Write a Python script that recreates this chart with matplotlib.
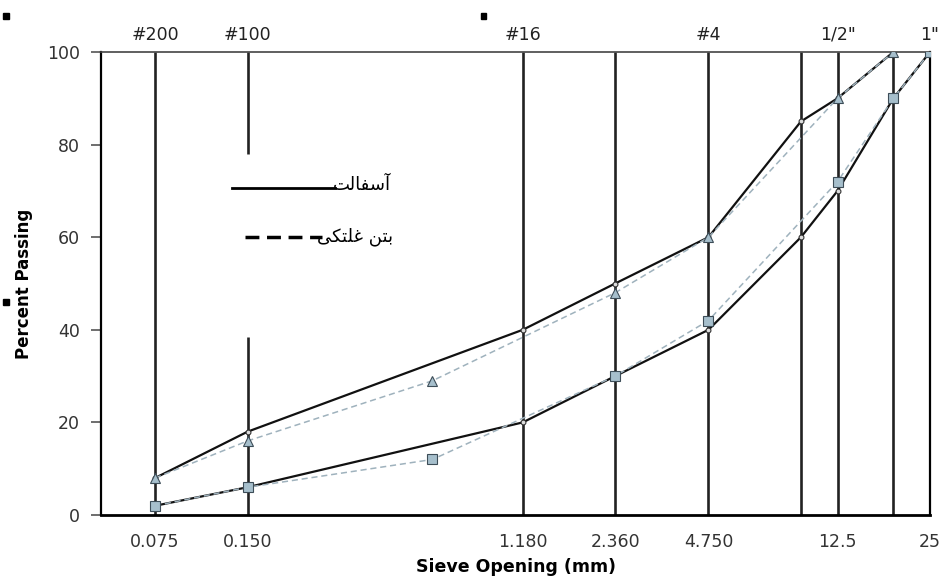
import matplotlib
matplotlib.use("Agg")
import matplotlib.pyplot as plt
from matplotlib.lines import Line2D
from matplotlib.patches import Rectangle

plt.rcParams['font.family'] = ['DejaVu Sans']

# sieve openings (mm)
sieve_lines = [0.075, 0.15, 1.18, 2.36, 4.75, 9.5, 12.5, 19]
bottom_ticks = [0.075, 0.15, 1.18, 2.36, 4.75, 12.5, 25]
bottom_labels = ['0.075', '0.150', '1.180', '2.360', '4.750', '12.5', '25']
top_ticks = [0.075, 0.15, 1.18, 4.75, 12.5, 25]
top_labels = ['#200', '#100', '#16', '#4', '1/2"', '1"']

# asphalt band (solid)
asph_up_x = [0.075, 0.15, 1.18, 2.36, 4.75, 9.5, 12.5, 19]
asph_up_y = [8, 18, 40, 50, 60, 85, 90, 100]
asph_lo_x = [0.075, 0.15, 1.18, 2.36, 4.75, 9.5, 12.5, 19, 25]
asph_lo_y = [2, 6, 20, 30, 40, 60, 70, 90, 100]

# roller compacted concrete band (dashed)
rcc_up_x = [0.075, 0.15, 0.6, 2.36, 4.75, 12.5, 19]
rcc_up_y = [8, 16, 29, 48, 60, 90, 100]
rcc_lo_x = [0.075, 0.15, 0.6, 2.36, 4.75, 12.5, 19, 25]
rcc_lo_y = [2, 6, 12, 30, 42, 72, 90, 100]

# persian labels, written as presentation forms in visual order
legend_asphalt = "\uFE96\uFEDF\uFE8E\uFED4\uFEB3\uFE81"          # آسفالت
legend_rcc = "\uFEF0\uFEDC\uFE98\uFEE0\uFECF \uFEE6\uFE98\uFE91"  # بتن غلتکی

fig = plt.figure(figsize=(9.46, 5.79), dpi=100)
ax = fig.add_axes([0.1068, 0.1105, 0.8763, 0.7997])
ax.set_xscale('log')
ax.set_xlim(0.05, 25)
ax.set_ylim(0, 100)

# sieve verticals, #100 one is broken where the legend sits
for s in sieve_lines:
    if s == 0.15:
        ax.vlines(s, 78, 100, color='#222222', lw=1.9, zorder=1)
        ax.vlines(s, 0, 38.5, color='#222222', lw=1.9, zorder=1)
    else:
        ax.vlines(s, 0, 100, color='#222222', lw=1.9, zorder=1)

face = '#a6bfcc'
edge = '#3d4d58'
dash_col = '#9fb2bd'

for xs, ys in [(asph_up_x, asph_up_y), (asph_lo_x, asph_lo_y)]:
    ax.plot(xs, ys, color='#111111', lw=1.6, marker='o', ms=3.5,
            mfc='#dddddd', mec='#333333', mew=0.8, zorder=3)

ax.plot(rcc_up_x, rcc_up_y, color=dash_col, lw=1.1, ls=(0, (4, 2.5)),
        marker='^', ms=7.5, mfc=face, mec=edge, mew=0.8, zorder=4)
ax.plot(rcc_lo_x, rcc_lo_y, color=dash_col, lw=1.1, ls=(0, (4, 2.5)),
        marker='s', ms=7.5, mfc=face, mec=edge, mew=0.8, zorder=4)

# manual legend
ax.add_line(Line2D([0.158, 0.282], [0.706, 0.706], transform=ax.transAxes,
                   color='black', lw=2.0, zorder=5))
ax.add_line(Line2D([0.174, 0.266], [0.600, 0.600], transform=ax.transAxes,
                   color='black', lw=2.5, ls=(0, (4, 2.2)), zorder=5))
ax.text(0.350, 0.712, legend_asphalt, transform=ax.transAxes, ha='right',
        va='center', fontsize=13, zorder=6)
ax.text(0.352, 0.600, legend_rcc, transform=ax.transAxes, ha='right',
        va='center', fontsize=13, zorder=6)

# axes
ax.set_yticks([0, 20, 40, 60, 80, 100])
ax.tick_params(axis='y', direction='out', length=7, width=1.2, pad=8,
               labelsize=12.5, labelcolor='#333333', color='#555555')
ax.set_xticks(bottom_ticks)
ax.set_xticklabels(bottom_labels)
ax.minorticks_off()
ax.tick_params(axis='x', length=0, pad=13, labelsize=12.5, labelcolor='#333333')

sec = ax.secondary_xaxis('top')
sec.set_xticks(top_ticks)
sec.set_xticklabels(top_labels)
sec.minorticks_off()
sec.tick_params(length=0, pad=6, labelsize=12.5, labelcolor='#222222')
sec.spines['top'].set_visible(False)

ax.spines['left'].set_linewidth(1.6)
ax.spines['bottom'].set_linewidth(2.0)
ax.spines['top'].set_linewidth(1.2)
ax.spines['top'].set_color('#444444')
ax.spines['right'].set_linewidth(1.6)

ax.set_xlabel('Sieve Opening (mm)', fontsize=12.5, fontweight='bold', labelpad=5)
ax.set_ylabel('Percent Passing', fontsize=12, fontweight='bold', labelpad=10)

# stray little squares of the scanned original
for (fx, fy) in [(0.003, 0.967), (0.508, 0.967), (0.003, 0.474)]:
    fig.add_artist(Rectangle((fx, fy), 0.006, 0.01, transform=fig.transFigure,
                             color='black'))

fig.savefig('out.png', dpi=100)
